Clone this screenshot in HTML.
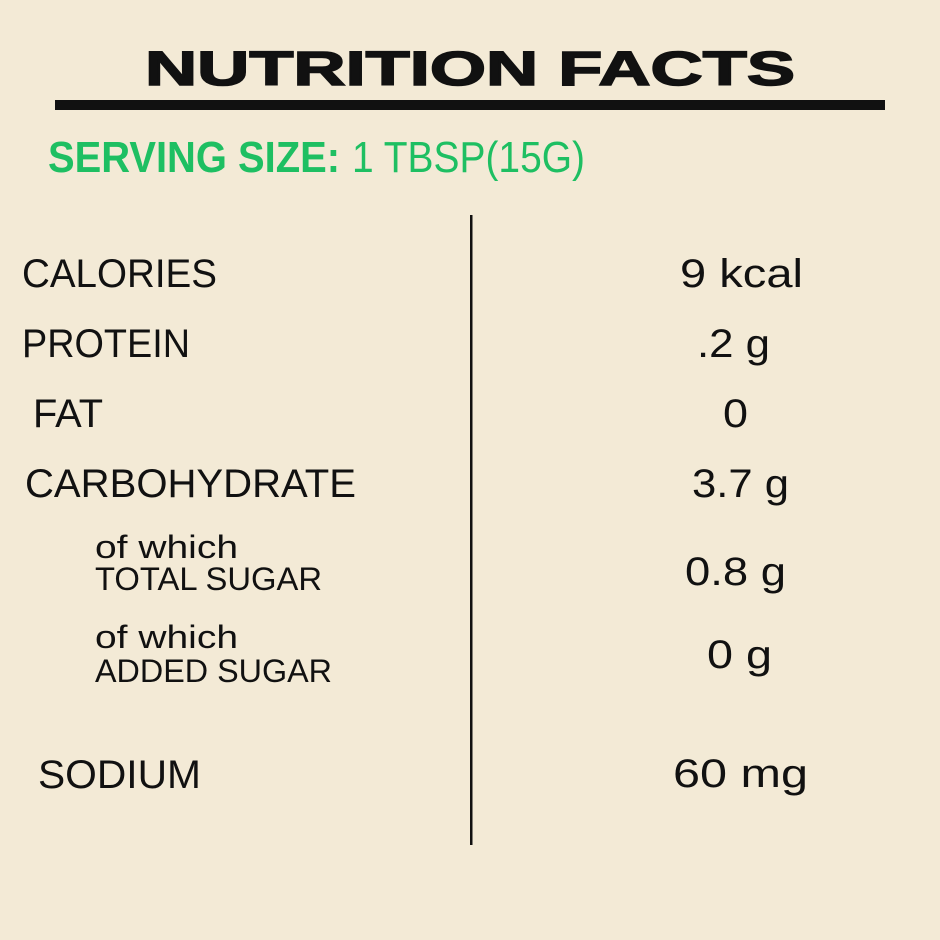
<!DOCTYPE html>
<html><head><meta charset="utf-8"><style>
html,body{margin:0;padding:0;background:#f3ead6;}
svg{display:block}
text{font-family:"Liberation Sans",sans-serif;fill:#111;}
</style></head><body>
<svg width="940" height="940" viewBox="0 0 940 940" xmlns="http://www.w3.org/2000/svg">
<rect width="940" height="940" fill="#f3ead6"/>
<text x="145" y="85" font-size="48" font-weight="bold" textLength="650" lengthAdjust="spacingAndGlyphs" style="stroke:#111;stroke-width:1.5">NUTRITION FACTS</text>
<rect x="55" y="100" width="830" height="10" fill="#111"/>
<text x="48" y="172" font-size="44" font-weight="bold" textLength="292" lengthAdjust="spacingAndGlyphs" style="fill:#1ebf62">SERVING SIZE:</text>
<text x="352" y="172" font-size="44" textLength="233" lengthAdjust="spacingAndGlyphs" style="fill:#1ebf62">1 TBSP(15G)</text>
<rect x="470" y="215" width="2.5" height="630" fill="#111"/>
<g font-size="40">
<text x="22" y="287" textLength="195" lengthAdjust="spacingAndGlyphs">CALORIES</text>
<text x="22" y="357" textLength="168" lengthAdjust="spacingAndGlyphs">PROTEIN</text>
<text x="33" y="427" textLength="70" lengthAdjust="spacingAndGlyphs">FAT</text>
<text x="25" y="497" textLength="331" lengthAdjust="spacingAndGlyphs">CARBOHYDRATE</text>
<text x="38" y="788" textLength="163" lengthAdjust="spacingAndGlyphs">SODIUM</text>
<text x="680" y="287" textLength="123" lengthAdjust="spacingAndGlyphs">9 kcal</text>
<text x="697" y="357" textLength="73" lengthAdjust="spacingAndGlyphs">.2 g</text>
<text x="723" y="427" textLength="25" lengthAdjust="spacingAndGlyphs">0</text>
<text x="692" y="497" textLength="97" lengthAdjust="spacingAndGlyphs">3.7 g</text>
<text x="685" y="585" textLength="101" lengthAdjust="spacingAndGlyphs">0.8 g</text>
<text x="707" y="668" textLength="65" lengthAdjust="spacingAndGlyphs">0 g</text>
<text x="673" y="787" textLength="135" lengthAdjust="spacingAndGlyphs">60 mg</text>
</g>
<g font-size="32">
<text x="95" y="558" textLength="143" lengthAdjust="spacingAndGlyphs">of which</text>
<text x="95" y="590" textLength="227" lengthAdjust="spacingAndGlyphs">TOTAL SUGAR</text>
<text x="95" y="648" textLength="143" lengthAdjust="spacingAndGlyphs">of which</text>
<text x="95" y="682" textLength="237" lengthAdjust="spacingAndGlyphs">ADDED SUGAR</text>
</g>
</svg>
</body></html>
